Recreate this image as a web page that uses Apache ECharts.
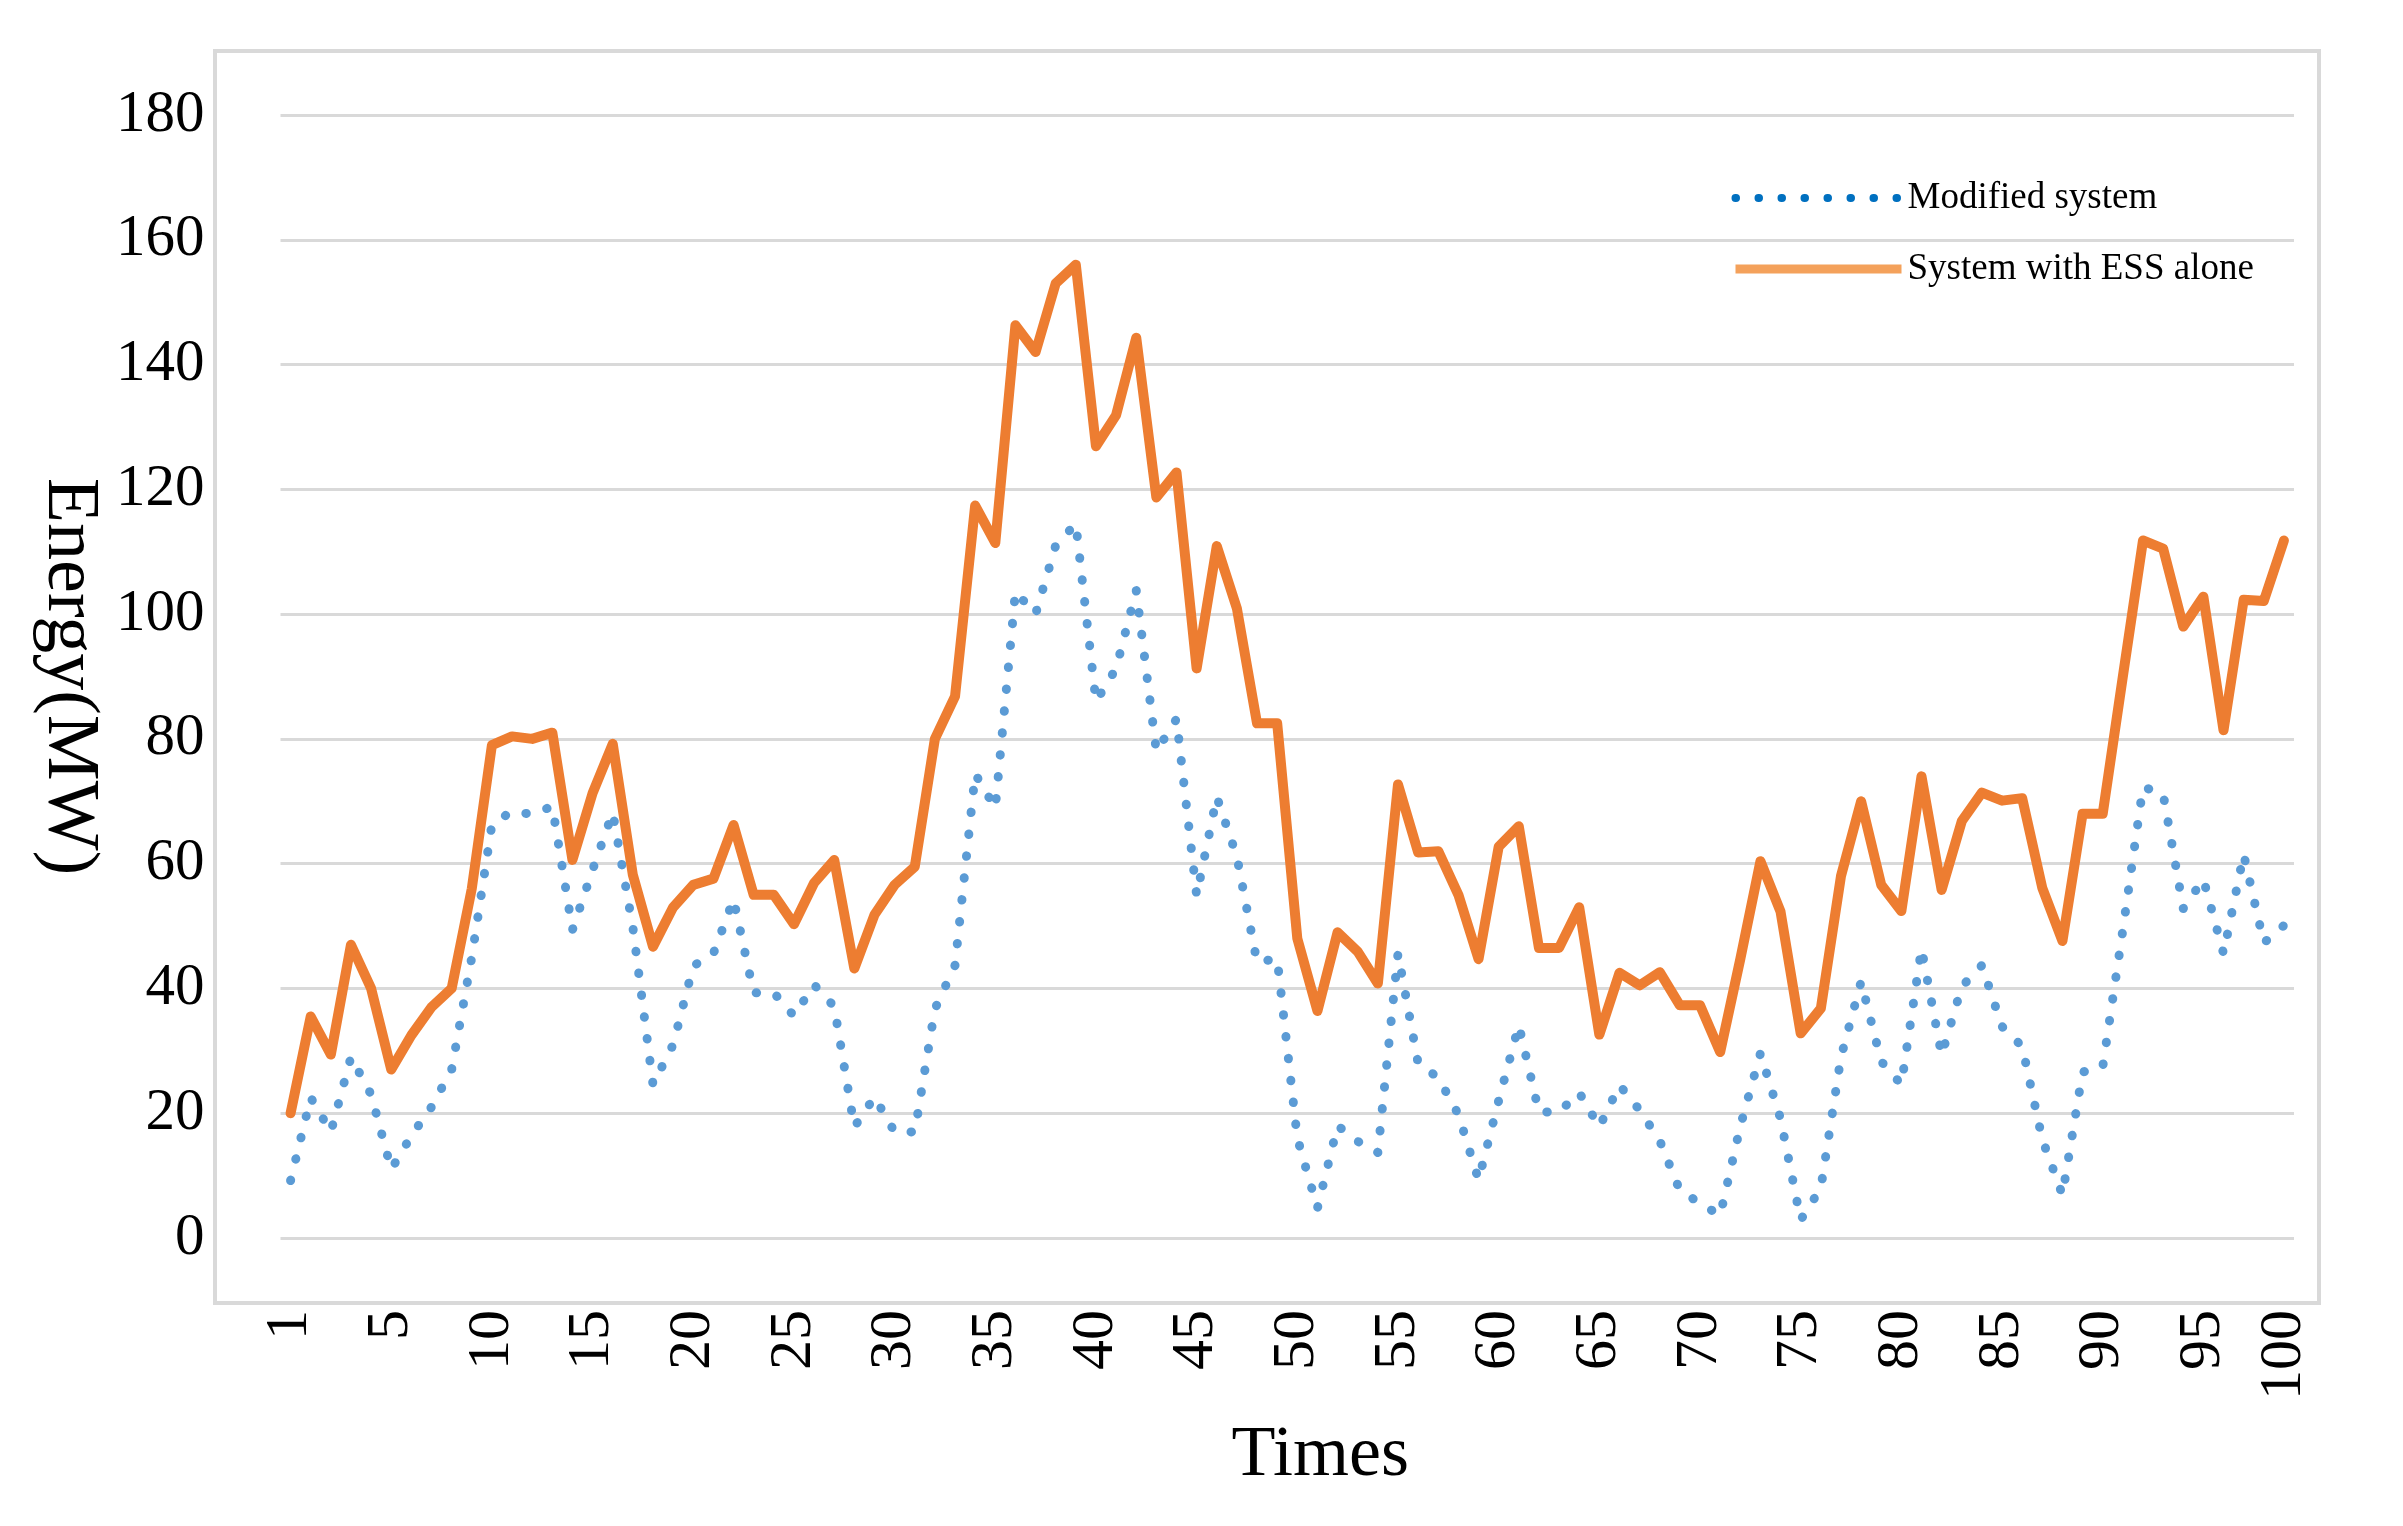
<!DOCTYPE html>
<html>
<head>
<meta charset="utf-8">
<script src="https://cdn.jsdelivr.net/npm/echarts@6/dist/echarts.min.js"></script>
<style>
html,body{margin:0;padding:0;background:#fff;}
#chart{width:2403px;height:1526px;}
</style>
</head>
<body>
<div id="chart"></div>
<script>
var times = [];
for (var t = 1; t <= 100; t++) times.push(String(t));

// tick labels shown under the axis (as placed in the original figure)
var xTickLabels = ['1','5','10','15','20','25','30','35','40','45','50','55','60','65','70','75','80','85','90','95','100'];

var modifiedSystem = [
 9.2,22.5,17,29,23,11,16.4,21,27,45,
 66.3,68.4,67.9,69.2,49.4,59,68.2,49.8,24.6,31,
 43.6,45.6,54.3,39.3,39.3,35.6,40.6,37.1,17.8,22.6,
 17,17,36.7,43.7,74.4,68.9,103.6,100,111,114.5,
 86,91.3,103.8,78,83.2,54.9,70.7,61.1,44.2,44.8,
 16,4.8,18,15.5,13.7,45.6,28,25.7,19.8,9.3,
 22,34.1,20.2,20.2,23.3,17.8,24.5,20.5,15.6,7.6,
 5.6,3.6,17.9,29.6,19.1,2.9,8,29,41.1,28.3,
 24.6,46.4,29.3,40.3,43.7,33.9,30.7,15.8,6.9,26.6,
 27.4,49.4,72.3,71.2,52.8,57.5,45.6,61.5,47.3,50.1
];

var essAlone = [
 20,35.5,29.4,47,40,27,32.5,37,40,56,
 79,80.4,80,81,60.6,71.3,79.2,58.2,46.7,53,
 56.6,57.6,66.2,55,55,50.3,56.9,60.6,43.2,51.8,
 56.6,59.5,80,86.8,117.4,111.4,146.3,142,153,156,
 126.9,131.9,144.3,118.7,122.7,91.3,110.9,100.9,82.5,82.5,
 48,36.4,49,45.9,40.8,72.7,61.8,62,55,44.7,
 62.7,66,46.5,46.5,53,32.6,42.5,40.5,42.6,37.3,
 37.3,29.8,44.7,60.4,52.3,32.8,36.8,58,70,56.6,
 52.4,74,55.8,66.8,71.4,70.1,70.5,56.1,47.6,68,
 68,90,111.8,110.5,98,102.8,81.4,102.3,102.1,111.8
];

var yTicks = {min: 0, max: 180, interval: 20};

// index on the category axis at which each tick label sits
var labelAtIndex = {};
xTickLabels.forEach(function (lab) {
  var n = Number(lab);
  var idx = n === 1 ? 0 : (n === times.length ? times.length - 1 : n);
  labelAtIndex[idx] = lab;
});

var FONT = "'Liberation Serif', 'Times New Roman', serif";
var chart = echarts.init(document.getElementById('chart'), null, {renderer: 'canvas'});

chart.setOption({
  backgroundColor: '#ffffff',
  animation: false,
  graphic: [{
    type: 'rect',
    shape: {x: 215, y: 51, width: 2104, height: 1252},
    style: {fill: 'none', stroke: '#D9D9D9', lineWidth: 4},
    silent: true,
    z: -1
  }],
  grid: {left: 280.5, top: 115, width: 2013.5, height: 1123, containLabel: false},
  legend: {
    orient: 'vertical',
    left: 1726,
    top: 173,
    itemWidth: 166,
    itemHeight: 14,
    itemGap: 31,
    textStyle: {fontFamily: FONT, fontSize: 37, color: '#000', lineHeight: 40, padding: [0,0,0,1]},
    data: [
      {name: 'Modified system',
       itemStyle: {color: 'rgba(0,0,0,0)', borderColor: 'rgba(0,0,0,0)', borderWidth: 0},
       lineStyle: {color: '#0070C0', width: 8, type: [0.5, 22.5], cap: 'round'}},
      {name: 'System with ESS alone',
       itemStyle: {color: 'rgba(0,0,0,0)', borderColor: 'rgba(0,0,0,0)', borderWidth: 0},
       lineStyle: {color: '#F4A15B', width: 9, type: 'solid', cap: 'butt'}}
    ]
  },
  xAxis: {
    type: 'category',
    data: times,
    boundaryGap: true,
    axisLine: {show: false},
    axisTick: {show: false},
    axisLabel: {
      rotate: 90,
      margin: 72,
      fontFamily: FONT,
      fontSize: 60,
      color: '#000',
      interval: function (idx) { return labelAtIndex[idx] !== undefined; },
      formatter: function (value, idx) { return labelAtIndex[idx] !== undefined ? labelAtIndex[idx] : ''; }
    },
    name: 'Times',
    nameLocation: 'middle',
    nameGap: 182,
    nameTextStyle: {fontFamily: FONT, fontSize: 72, color: '#000', padding: [0,0,0,66]}
  },
  yAxis: {
    type: 'value',
    min: yTicks.min,
    max: yTicks.max,
    interval: yTicks.interval,
    axisLine: {show: false},
    axisTick: {show: false},
    axisLabel: {margin: 76, fontFamily: FONT, fontSize: 59, color: '#000'},
    splitLine: {show: true, lineStyle: {color: '#D9D9D9', width: 3}},
    name: 'Energy(MW)',
    nameLocation: 'middle',
    nameRotate: -90,
    nameGap: 162,
    nameTextStyle: {fontFamily: FONT, fontSize: 74, color: '#000'}
  },
  series: [
    {
      name: 'Modified system',
      type: 'line',
      data: modifiedSystem,
      symbol: 'none',
      smooth: false,
      lineStyle: {color: '#5B9BD5', width: 9, type: [0.5, 21.5], cap: 'round', join: 'round'},
      itemStyle: {color: '#5B9BD5'},
      z: 2
    },
    {
      name: 'System with ESS alone',
      type: 'line',
      data: essAlone,
      symbol: 'none',
      smooth: false,
      lineStyle: {color: '#ED7D31', width: 10, type: 'solid', cap: 'round', join: 'round'},
      itemStyle: {color: '#ED7D31'},
      z: 3
    }
  ]
});
</script>
</body>
</html>
